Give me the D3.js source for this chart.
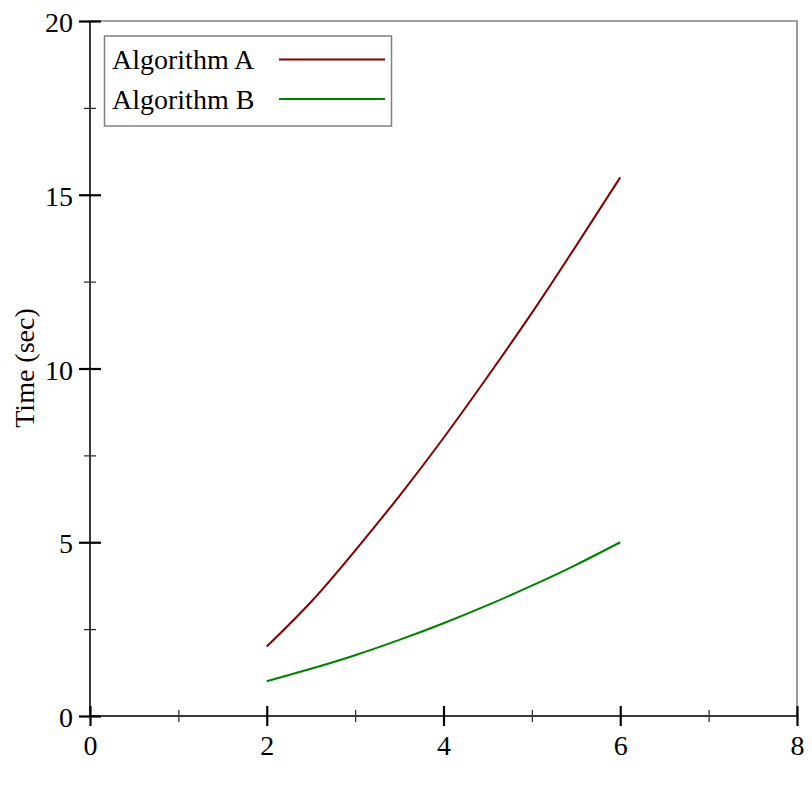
<!DOCTYPE html>
<html>
<head>
<meta charset="utf-8">
<script src="https://cdn.jsdelivr.net/npm/d3@7"></script>
<style>
  body { margin: 0; background: #fff; }
  svg { display: block; }
  text { font-family: "Liberation Serif", "DejaVu Serif", serif; }
</style>
</head>
<body>
<svg id="chart" width="812" height="812"></svg>
<script>
// values
var sizes = [2, 2.5, 3, 3.5, 4, 4.5, 5, 5.5, 6];
var timeA = [2, 3.28, 4.76, 6.33, 8, 9.77, 11.6, 13.53, 15.5];
var timeB = [1, 1.36, 1.75, 2.19, 2.67, 3.19, 3.75, 4.35, 5];
var seriesNames = ["Algorithm A", "Algorithm B"];
var seriesColors = ["#800000", "#008000"];
var xMajor = [0, 2, 4, 6, 8], xMinor = [1, 3, 5, 7];
var yMajor = [0, 5, 10, 15, 20], yMinor = [2.5, 7.5, 12.5, 17.5];

var svg = d3.select("#chart");

var x = d3.scaleLinear().domain([0, 8]).range([90, 797]);
var y = d3.scaleLinear().domain([0, 20]).range([716, 21]);

// top and right frame
svg.append("path")
    .attr("d", "M" + x(0) + "," + y(20) + "H" + x(8) + "V" + y(0))
    .attr("fill", "none")
    .attr("stroke", "#808080")
    .attr("stroke-width", 1.6);

// minor ticks
var xMin = svg.append("g")
    .attr("transform", "translate(0," + y(0) + ")")
    .call(d3.axisBottom(x).tickValues(xMinor).tickFormat("").tickSizeOuter(0));
xMin.select(".domain").remove();
xMin.selectAll(".tick line").attr("y1", -6).attr("y2", 6).attr("stroke", "#222").attr("stroke-width", 1.2);

var yMin = svg.append("g")
    .attr("transform", "translate(" + x(0) + ",0)")
    .call(d3.axisLeft(y).tickValues(yMinor).tickFormat("").tickSizeOuter(0));
yMin.select(".domain").remove();
yMin.selectAll(".tick line").attr("x1", -6).attr("x2", 6).attr("stroke", "#222").attr("stroke-width", 1.2);

// axis lines
svg.append("line")
    .attr("x1", x(0)).attr("x2", x(8)).attr("y1", y(0)).attr("y2", y(0))
    .attr("stroke", "#3a3a3a").attr("stroke-width", 2);
svg.append("line")
    .attr("x1", x(0)).attr("x2", x(0)).attr("y1", y(0)).attr("y2", y(20))
    .attr("stroke", "#3a3a3a").attr("stroke-width", 2);

// major ticks
var xAx = svg.append("g")
    .attr("transform", "translate(0," + y(0) + ")")
    .call(d3.axisBottom(x).tickValues(xMajor).tickFormat(d3.format("d")).tickSizeOuter(0));
xAx.select(".domain").remove();
xAx.selectAll(".tick line").attr("y1", -10).attr("y2", 10).attr("stroke", "#000").attr("stroke-width", 2.2);
xAx.selectAll(".tick text")
    .attr("y", 39).attr("dy", null)
    .style("font-family", "'Liberation Serif', serif")
    .style("font-size", "28px").attr("fill", "#000");

var yAx = svg.append("g")
    .attr("transform", "translate(" + x(0) + ",0)")
    .call(d3.axisLeft(y).tickValues(yMajor).tickFormat(d3.format("d")).tickSizeOuter(0));
yAx.select(".domain").remove();
yAx.selectAll(".tick line").attr("x1", -11).attr("x2", 11).attr("stroke", "#000").attr("stroke-width", 2.2);
yAx.selectAll(".tick text")
    .attr("x", -17).attr("dy", null).attr("y", 10.5)
    .style("font-family", "'Liberation Serif', serif")
    .style("font-size", "28px").attr("fill", "#000");

// y title
svg.append("text")
    .attr("transform", "translate(34,368) rotate(-90)")
    .attr("text-anchor", "middle")
    .style("font-size", "28px")
    .attr("fill", "#140000")
    .text("Time (sec)");

// lines
var line = d3.line()
    .x(function (d) { return x(d[0]); })
    .y(function (d) { return y(d[1]); })
    .curve(d3.curveNatural);

[timeA, timeB].forEach(function (vals, i) {
    svg.append("path")
        .datum(sizes.map(function (s, j) { return [s, vals[j]]; }))
        .attr("d", line)
        .attr("fill", "none")
        .attr("stroke", seriesColors[i])
        .attr("stroke-width", 2);
});

// legend
svg.append("rect")
    .attr("x", 104.5).attr("y", 36).attr("width", 287).attr("height", 90)
    .attr("fill", "#fff").attr("stroke", "#808080").attr("stroke-width", 1.5);

seriesNames.forEach(function (name, i) {
    svg.append("text")
        .attr("x", 112).attr("y", 69 + i * 40)
        .style("font-size", "28px")
        .attr("fill", "#000")
        .text(name);
    svg.append("line")
        .attr("x1", 279).attr("x2", 385)
        .attr("y1", 59.5 + i * 39.5).attr("y2", 59.5 + i * 39.5)
        .attr("stroke", seriesColors[i]).attr("stroke-width", 2);
});
</script>
</body>
</html>
